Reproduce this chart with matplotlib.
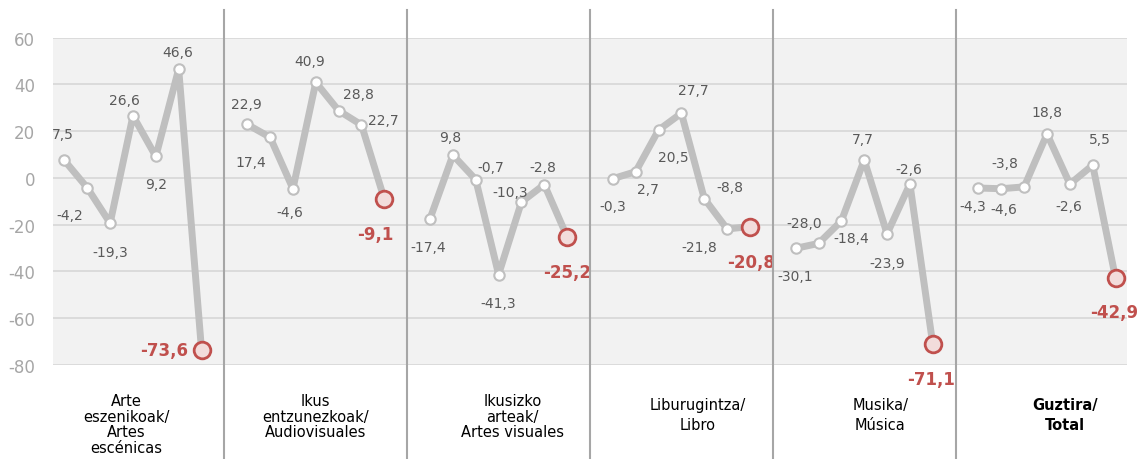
import matplotlib
matplotlib.use("Agg")
import matplotlib.pyplot as plt
from matplotlib.transforms import blended_transform_factory

# data: year-on-year change (%) per sector, 7 points each
groups = ["Arte\neszenikoak/\nArtes\nescénicas",
          "Ikus\nentzunezkoak/\nAudiovisuales",
          "Ikusizko\narteak/\nArtes visuales",
          "Liburugintza/\nLibro",
          "Musika/\nMúsica",
          "Guztira/\nTotal"]
arte = [7.5, -4.2, -19.3, 26.6, 9.2, 46.6, -73.6]
ikus = [22.9, 17.4, -4.6, 40.9, 28.8, 22.7, -9.1]
ikusizko = [-17.4, 9.8, -0.7, -41.3, -10.3, -2.8, -25.2]
libro = [-0.3, 2.7, 20.5, 27.7, -8.8, -21.8, -20.8]
musika = [-30.1, -28.0, -18.4, 7.7, -23.9, -2.6, -71.1]
total = [-4.3, -4.6, -3.8, 18.8, -2.6, 5.5, -42.9]
series = [arte, ikus, ikusizko, libro, musika, total]
yticks = [-80, -60, -40, -20, 0, 20, 40, 60]

# label offsets in pixels (dx, dy) for each point
offsets = [
    [(-2, 26), (-18, -27), (0, -29), (-9, 16), (0, -28), (-1, 17), (-13, 0)],
    [(-1, 20), (-19, -25), (-3, -23), (-6, 21), (20, 17), (22, 5), (-9, -35)],
    [(-2, -28), (-3, 18), (15, 13), (0, -28), (-11, 10), (-1, 18), (0, -35)],
    [(0, -27), (12, -17), (15, -27), (12, 23), (26, 12), (-28, -18), (1, -35)],
    [(0, -28), (-14, 20), (10, -17), (-1, 21), (0, -29), (-1, 15), (-2, -35)],
    [(-6, -18), (2, -20), (-19, 24), (0, 22), (-1, -22), (7, 26), (-1, -34)],
]
cat_dx = [-0.3, 0.0, 0.6, 0.7, 0.7, 0.8]

GRAY = "#bfbfbf"
RED = "#c0504d"
LBL = "#595959"

plt.rcParams["font.family"] = ["DejaVu Sans"]

fig = plt.figure(figsize=(11.44, 4.6), dpi=100)
ax = fig.add_axes([53 / 1144, 1 - 366 / 460, (1127 - 53) / 1144, (366 - 38.7) / 460])
ax.set_facecolor("#f2f2f2")

slot = 8
for g, vals in enumerate(series):
    xs = [g * slot + i for i in range(len(vals))]
    ax.plot(xs, vals, color=GRAY, lw=5, solid_joinstyle="round",
            solid_capstyle="round", zorder=3)
    ax.plot(xs[:-1], vals[:-1], "o", ms=7.5, mfc="white", mec=GRAY, mew=1.5, zorder=4)
    ax.plot(xs[-1], vals[-1], "o", ms=12, mfc="#f2dcdb", mec=RED, mew=2, zorder=5)
    for i, (x, v) in enumerate(zip(xs, vals)):
        txt = f"{v:.1f}".replace(".", ",")
        dx, dy = offsets[g][i]
        last = i == len(vals) - 1
        ha = "right" if (last and g == 0) else "center"
        ax.annotate(txt, (x, v), xytext=(dx, dy), textcoords="offset pixels",
                    ha=ha, va="center",
                    fontsize=12 if last else 10,
                    fontweight="bold" if last else "normal",
                    color=RED if last else LBL, zorder=6)

ax.set_xlim(-0.5, len(series) * slot - 1.5)
ax.set_ylim(-80, 60)
ax.set_yticks(yticks)
ax.set_yticklabels([str(t) for t in yticks], color="#a6a6a6", fontsize=12)
ax.tick_params(axis="y", length=0, pad=13)
ax.set_xticks([])
ax.grid(axis="y", color="#d9d9d9", lw=1.3)
ax.set_axisbelow(True)
for s in ax.spines.values():
    s.set_visible(False)

# group separators and category labels
trans = blended_transform_factory(ax.transData, fig.transFigure)
for g in range(1, len(series)):
    xsep = g * slot - 1
    ax.plot([xsep, xsep], [0, 1 - 11 / 460], color="#a6a6a6", lw=1.5,
            transform=trans, clip_on=False, zorder=7)

for g, name in enumerate(groups):
    xc = g * slot + 3 + cat_dx[g]
    short = name.count("\n") < 2
    fig_y = 1 - (398 if short else 394) / 460
    ax.text(xc, fig_y, name, transform=trans, ha="center", va="top",
            fontsize=10.5, linespacing=1.45 if short else 1.05,
            fontweight="bold" if g == len(groups) - 1 else "normal",
            color="black")

fig.savefig("out.png", dpi=100)
